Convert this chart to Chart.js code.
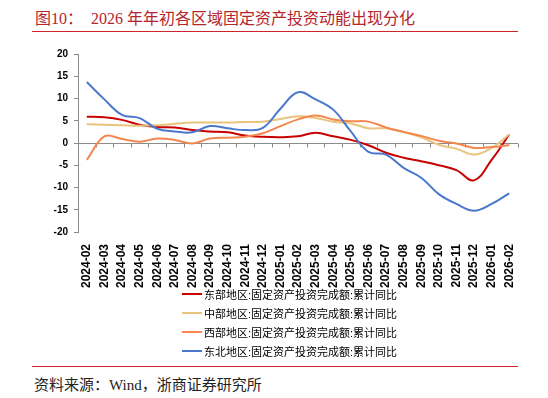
<!DOCTYPE html>
<html>
<head>
<meta charset="utf-8">
<script src="https://cdn.jsdelivr.net/npm/chart.js@4.4.1/dist/chart.umd.min.js"></script>
<style>
  body { margin: 0; width: 548px; height: 398px; background: #fff; position: relative; overflow: hidden;
         font-family: 'Liberation Serif', 'Noto Sans CJK SC', serif; }
  .title { position: absolute; left: 35px; top: 5px; font-size: 16px; color: #B5252B; white-space: pre; }
  .rule { position: absolute; left: 32px; width: 486px; height: 1px; background: #D0242B; }
  #wrap { position: absolute; left: 0; top: 40px; width: 548px; height: 250px; }
  #legend { position: absolute; left: 182px; top: 284px; font-family: 'Liberation Sans', 'Noto Sans CJK SC', sans-serif;
            font-size: 11px; color: #000; }
  .item { height: 19px; display: flex; align-items: center; }
  .swatch { width: 20px; height: 2px; margin-right: 2px; }
  .source { position: absolute; left: 34px; top: 373px; font-size: 15px; color: #222; }
</style>
</head>
<body>
<div class="title">图10：  2026 年年初各区域固定资产投资动能出现分化</div>
<div class="rule" style="top:31px"></div>
<div id="wrap"><canvas id="chart"></canvas></div>
<div id="legend"></div>
<div class="rule" style="top:366px"></div>
<div class="source">资料来源：Wind，浙商证券研究所</div>

<script>
const months = ['2024-02', '2024-03', '2024-04', '2024-05', '2024-06', '2024-07', '2024-08', '2024-09',
                '2024-10', '2024-11', '2024-12', '2025-01', '2025-02', '2025-03', '2025-04', '2025-05',
                '2025-06', '2025-07', '2025-08', '2025-09', '2025-10', '2025-11', '2025-12', '2026-01', '2026-02'];

const seriesNames = ['东部地区:固定资产投资完成额:累计同比', '中部地区:固定资产投资完成额:累计同比',
                     '西部地区:固定资产投资完成额:累计同比', '东北地区:固定资产投资完成额:累计同比'];

const eastValues = [5.9, 5.8, 5.2, 4.1, 3.6, 3.5, 2.9, 2.6, 2.4, 1.7, 1.4, 1.3, 1.5, 2.3, 1.5, 0.7,
                    -0.5, -2.2, -3.3, -4.1, -5.0, -6.1, -8.4, -3.8, 1.9];
const centralValues = [4.2, 4.1, 4.0, 3.9, 4.0, 4.3, 4.6, 4.6, 4.6, 4.7, 4.8, 5.4, 6.0, 5.6, 4.8, 4.4,
                       3.3, 3.3, 2.4, 1.3, -0.4, -1.3, -2.6, -1.1, 1.9];
const westValues = [-3.8, 1.5, 0.9, 0.3, 1.0, 0.7, -0.1, 1.0, 1.2, 1.4, 2.2, 3.8, 5.3, 6.2, 5.3, 4.9,
                    4.8, 3.5, 2.5, 1.6, 0.5, -0.1, -1.1, -0.9, -0.5];
const northeastValues = [13.7, 9.8, 6.3, 5.6, 3.2, 2.6, 2.4, 3.8, 3.3, 2.9, 3.4, 7.7, 11.4, 9.8, 7.5, 2.6,
                         -2.0, -2.6, -5.6, -7.8, -11.5, -13.7, -15.2, -13.7, -11.3];

const lineColors = ['#C80000', '#E8C47E', '#F4874F', '#4A78CC'];
const axisColor = '#8c8c8c';

// zero line with tick marks between categories (Excel style)
const zeroAxis = {
    id: 'zeroAxis',
    beforeDatasetsDraw(chart) {
        const { ctx, scales: { x, y } } = chart;
        const y0 = Math.round(y.getPixelForValue(0)) + 0.5;
        ctx.save();
        ctx.strokeStyle = axisColor;
        ctx.lineWidth = 1;
        ctx.beginPath();
        ctx.moveTo(x.left, y0);
        ctx.lineTo(x.right, y0);
        for (let i = 0; i <= months.length; i++) {
            const px = Math.round(x.getPixelForValue(i - 0.5)) + 0.5;
            ctx.moveTo(px, y0);
            ctx.lineTo(px, y0 + 4);
        }
        ctx.stroke();
        ctx.restore();
    }
};

const allValues = [eastValues, centralValues, westValues, northeastValues];

const chart = new Chart(document.getElementById('chart'), {
    type: 'line',
    data: {
        labels: months,
        datasets: allValues.map((vals, i) => ({
            label: seriesNames[i],
            data: vals,
            borderColor: lineColors[i],
            backgroundColor: lineColors[i],
            borderWidth: 2,
            pointRadius: 0,
            tension: 0.4,
            order: 4 - i
        }))
    },
    options: {
        responsive: true,
        maintainAspectRatio: false,
        animation: false,
        layout: { padding: { top: 14, right: 30, bottom: 0, left: 0 } },
        plugins: {
            legend: { display: false },
            tooltip: { enabled: false }
        },
        scales: {
            x: {
                offset: true,
                grid: { display: false },
                border: { display: false },
                ticks: {
                    autoSkip: false,
                    minRotation: 90,
                    maxRotation: 90,
                    padding: 4,
                    color: '#000',
                    font: { family: 'Liberation Sans', size: 12, weight: 'bold' }
                },
                afterFit(scale) { scale.height = 58; }
            },
            y: {
                min: -20,
                max: 20,
                ticks: {
                    stepSize: 5,
                    padding: 6,
                    color: '#000',
                    font: { family: 'Liberation Sans', size: 10, weight: 'bold' }
                },
                grid: { display: true, drawOnChartArea: false, drawTicks: true, tickLength: 4, color: axisColor },
                border: { display: true, color: axisColor },
                afterFit(scale) { scale.width = 78; }
            }
        }
    },
    plugins: [zeroAxis]
});

// legend, one series per row
const legend = document.getElementById('legend');
chart.data.datasets.forEach(ds => {
    const row = document.createElement('div');
    row.className = 'item';
    row.innerHTML = '<span class="swatch" style="background:' + ds.borderColor + '"></span>' + ds.label;
    legend.appendChild(row);
});
</script>
</body>
</html>
